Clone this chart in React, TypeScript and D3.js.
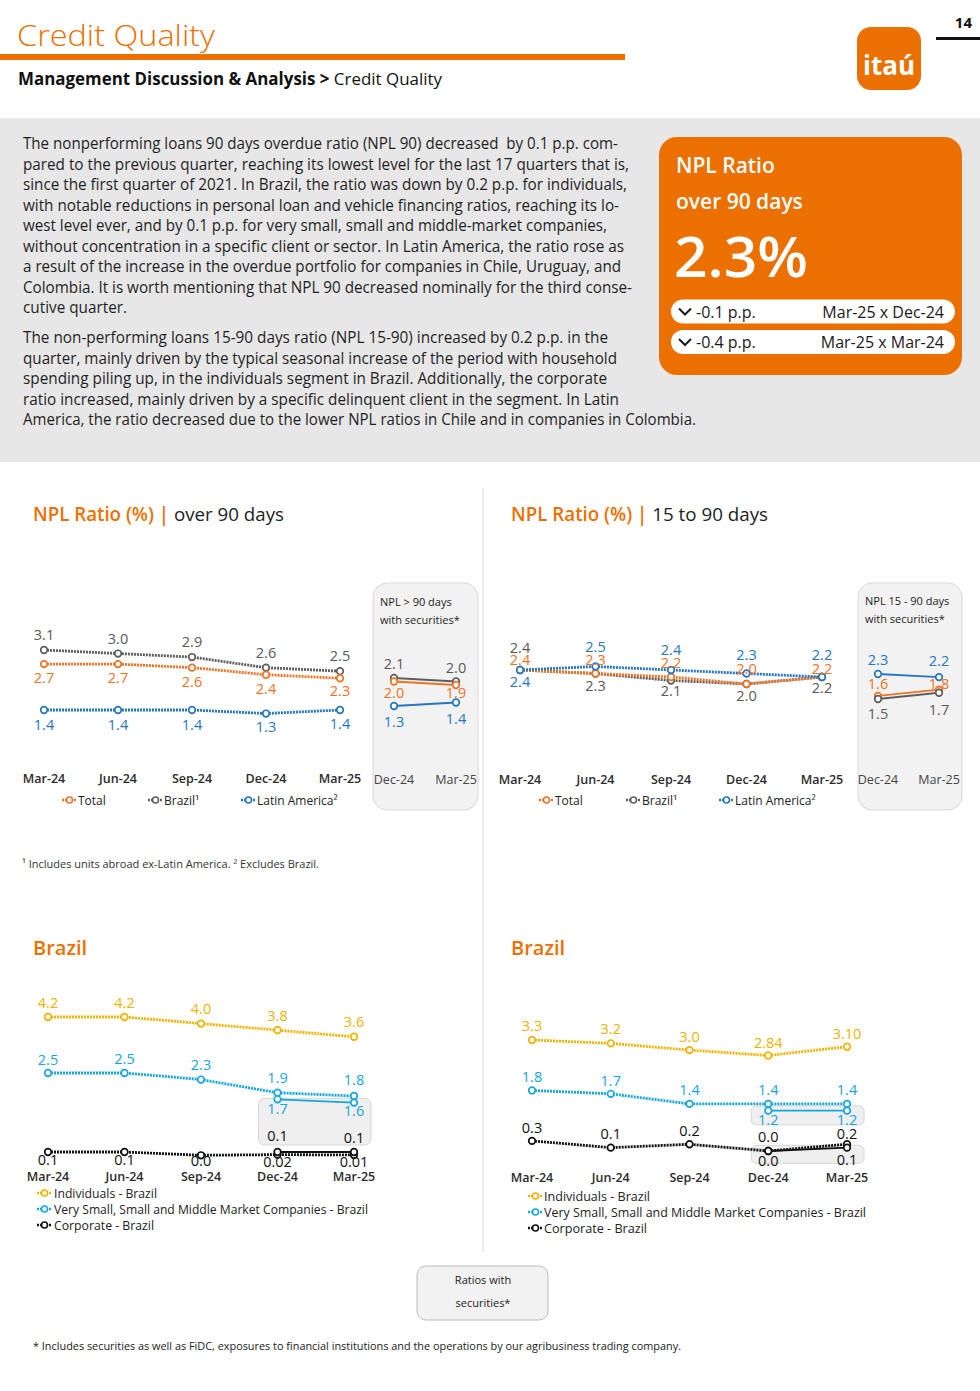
import React from "react";
import * as d3 from "d3";

// ---------- data ----------
const quarters = ["Mar-24", "Jun-24", "Sep-24", "Dec-24", "Mar-25"];
const lastTwo = ["Dec-24", "Mar-25"];

// NPL over 90 days (%)
const npl90Total = [2.7, 2.7, 2.6, 2.4, 2.3];
const npl90Brazil = [3.1, 3.0, 2.9, 2.6, 2.5];
const npl90Latam = [1.4, 1.4, 1.4, 1.3, 1.4];
const npl90SecTotal = [2.0, 1.9];
const npl90SecBrazil = [2.1, 2.0];
const npl90SecLatam = [1.3, 1.4];

// NPL 15 to 90 days (%)
const npl15Total = [2.4, 2.3, 2.2, 2.0, 2.2];
const npl15Brazil = [2.4, 2.3, 2.1, 2.0, 2.2];
const npl15Latam = [2.4, 2.5, 2.4, 2.3, 2.2];
const npl15SecTotal = [1.6, 1.8];
const npl15SecBrazil = [1.5, 1.7];
const npl15SecLatam = [2.3, 2.2];

// Brazil over 90 days (%)
const br90Individuals = [4.2, 4.2, 4.0, 3.8, 3.6];
const br90Sme = [2.5, 2.5, 2.3, 1.9, 1.8];
const br90Corporate = [0.1, 0.1, 0.0, 0.02, 0.01];
const br90CorporateLabels = ["0.1", "0.1", "0.0", "0.02", "0.01"];
const br90SecSme = [1.7, 1.6];
const br90SecCorporate = [0.1, 0.1];

// Brazil 15 to 90 days (%)
const br15Individuals = [3.3, 3.2, 3.0, 2.84, 3.1];
const br15IndividualsLabels = ["3.3", "3.2", "3.0", "2.84", "3.10"];
const br15Sme = [1.8, 1.7, 1.4, 1.4, 1.4];
const br15Corporate = [0.3, 0.1, 0.2, 0.0, 0.2];
const br15SecSme = [1.2, 1.2];
const br15SecCorporate = [0.0, 0.1];

const legendMain = ["Total", "Brazil¹", "Latin America²"];
const legendBrazil = [
  "Individuals - Brazil",
  "Very Small, Small and Middle Market Companies - Brazil",
  "Corporate - Brazil",
];

const bodyPara1 = [
  "The nonperforming loans 90 days overdue ratio (NPL 90) decreased  by 0.1 p.p. com-",
  "pared to the previous quarter, reaching its lowest level for the last 17 quarters that is,",
  "since the first quarter of 2021. In Brazil, the ratio was down by 0.2 p.p. for individuals,",
  "with notable reductions in personal loan and vehicle financing ratios, reaching its lo-",
  "west level ever, and by 0.1 p.p. for very small, small and middle-market companies,",
  "without concentration in a specific client or sector. In Latin America, the ratio rose as",
  "a result of the increase in the overdue portfolio for companies in Chile, Uruguay, and",
  "Colombia. It is worth mentioning that NPL 90 decreased nominally for the third conse-",
  "cutive quarter.",
];
const bodyPara2 = [
  "The non-performing loans 15-90 days ratio (NPL 15-90) increased by 0.2 p.p. in the",
  "quarter, mainly driven by the typical seasonal increase of the period with household",
  "spending piling up, in the individuals segment in Brazil. Additionally, the corporate",
  "ratio increased, mainly driven by a specific delinquent client in the segment. In Latin",
  "America, the ratio decreased due to the lower NPL ratios in Chile and in companies in Colombia.",
];

// ---------- layout / style ----------
const para1Widths = [595, 606, 604, 596, 584, 601, 598, 609, 104];
const para2Widths = [585, 594, 584, 596, 673];

const ORANGE = "#EC7000";
const C_TOTAL = "#EF7224";
const C_BRAZIL = "#5E5E5E";
const C_BRAZIL_TXT = "#5A5A5A";
const C_LATAM = "#2676C0";
const C_IND = "#F2B200";
const C_SME = "#16A6DF";
const C_CORP = "#111111";
const FONT = "'Open Sans', 'Noto Sans', sans-serif";
const NARROW = "'Liberation Sans Narrow', 'Open Sans', sans-serif";
const DOTS = "2 1";

type S = {
  values: number[];
  cats: string[];
  labels?: string[];
  color: string;
  labelColor?: string;
  solid?: boolean;
  dy: number[];
};

function Lines({
  x,
  y,
  series,
}: {
  x: d3.ScalePoint<string>;
  y: d3.ScaleLinear<number, number>;
  series: S[];
}) {
  const line = d3.line();
  return (
    <g>
      {series.map((s, k) => {
        const pts = s.values.map((v, i) => [x(s.cats[i])!, y(v)] as [number, number]);
        return (
          <path
            key={"l" + k}
            d={line(pts)!}
            fill="none"
            stroke={s.color}
            strokeWidth={s.solid ? 1.8 : 2.8}
            strokeDasharray={s.solid ? undefined : DOTS}
          />
        );
      })}
      {series.map((s, k) =>
        s.values.map((v, i) => (
          <circle
            key={"c" + k + "-" + i}
            cx={x(s.cats[i])!}
            cy={y(v)}
            r={3.3}
            fill="#fff"
            stroke={s.color}
            strokeWidth={1.7}
          />
        ))
      )}
      {series.map((s, k) =>
        s.values.map((v, i) => (
          <text
            key={"t" + k + "-" + i}
            x={x(s.cats[i])!}
            y={y(v) + s.dy[i]}
            textAnchor="middle"
            fontSize={14.5}
            fontFamily={FONT}
            fill={s.labelColor ?? s.color}
          >
            {s.labels ? s.labels[i] : d3.format(".1f")(v)}
          </text>
        ))
      )}
    </g>
  );
}

function LegendMarker({ x, y, color }: { x: number; y: number; color: string }) {
  return (
    <g>
      <line x1={x} x2={x + 15} y1={y} y2={y} stroke={color} strokeWidth={2.6} strokeDasharray={DOTS} />
      <circle cx={x + 7.5} cy={y} r={3} fill="#fff" stroke={color} strokeWidth={1.6} />
    </g>
  );
}

function XLabels({ x, cats, y, bold = true }: { x: d3.ScalePoint<string>; cats: string[]; y: number; bold?: boolean }) {
  return (
    <g>
      {cats.map((c) => (
        <text
          key={c}
          x={x(c)!}
          y={y}
          textAnchor="middle"
          fontSize={bold ? 12.5 : 12.5}
          fontWeight={bold ? 600 : 400}
          fontFamily={FONT}
          fill={bold ? "#2b2b2b" : "#444"}
        >
          {c}
        </text>
      ))}
    </g>
  );
}

export default function App() {
  // chart 1: NPL over 90
  const x1 = d3.scalePoint<string>().domain(quarters).range([44, 340]);
  const y1 = d3.scaleLinear().domain([1.4, 3.1]).range([710, 650]);
  const xi1 = d3.scalePoint<string>().domain(lastTwo).range([394, 456]);
  const yi1 = d3.scaleLinear().domain([1.3, 2.1]).range([706, 678]);

  // chart 2: NPL 15-90
  const x2 = d3.scalePoint<string>().domain(quarters).range([520, 822]);
  const y2 = d3.scaleLinear().domain([2.0, 2.4]).range([684, 670]);
  const xi2 = d3.scalePoint<string>().domain(lastTwo).range([878, 939]);
  const yi2 = d3.scaleLinear().domain([1.5, 2.3]).range([699, 674]);

  // chart 3: Brazil over 90
  const x3 = d3.scalePoint<string>().domain(quarters).range([48, 354]);
  const y3 = d3.scaleLinear().domain([0.1, 4.2]).range([1152, 1017]);

  // chart 4: Brazil 15-90
  const x4 = d3.scalePoint<string>().domain(quarters).range([532, 847]);
  const y4 = d3.scaleLinear().domain([0, 3.3]).range([1151, 1040]);

  const s1: S[] = [
    { values: npl90Brazil, cats: quarters, color: C_BRAZIL, labelColor: C_BRAZIL_TXT, dy: [-10, -10, -10, -10, -10] },
    { values: npl90Total, cats: quarters, color: C_TOTAL, dy: [19, 19, 19, 19, 18] },
    { values: npl90Latam, cats: quarters, color: C_LATAM, dy: [20, 20, 20, 18, 19] },
  ];
  const si1: S[] = [
    { values: npl90SecBrazil, cats: lastTwo, color: C_BRAZIL, labelColor: C_BRAZIL_TXT, solid: true, dy: [-9, -9] },
    { values: npl90SecTotal, cats: lastTwo, color: C_TOTAL, solid: true, dy: [16, 13] },
    { values: npl90SecLatam, cats: lastTwo, color: C_LATAM, solid: true, dy: [21, 21] },
  ];
  const s2: S[] = [
    { values: npl15Brazil, cats: quarters, color: C_BRAZIL, labelColor: C_BRAZIL_TXT, dy: [-17, 17, 15, 17, 16] },
    { values: npl15Total, cats: quarters, color: C_TOTAL, dy: [-5, -9, -9, -10, -3] },
    { values: npl15Latam, cats: quarters, color: C_LATAM, dy: [17, -14.5, -15, -14, -17] },
  ];
  const si2: S[] = [
    { values: npl15SecLatam, cats: lastTwo, color: C_LATAM, solid: true, dy: [-9, -11] },
    { values: npl15SecTotal, cats: lastTwo, color: C_TOTAL, solid: true, dy: [-7, -1] },
    { values: npl15SecBrazil, cats: lastTwo, color: C_BRAZIL, labelColor: C_BRAZIL_TXT, solid: true, dy: [20, 22] },
  ];
  const s3: S[] = [
    { values: br90Individuals, cats: quarters, color: C_IND, dy: [-9.5, -9.5, -9.5, -9, -10] },
    { values: br90Sme, cats: quarters, color: C_SME, dy: [-8, -9, -10, -10, -11] },
    { values: br90SecSme, cats: lastTwo, color: C_SME, solid: true, dy: [15, 13] },
    { values: br90Corporate, cats: quarters, labels: br90CorporateLabels, color: C_CORP, dy: [13, 13, 11, 12, 12] },
    { values: br90SecCorporate, cats: lastTwo, color: C_CORP, solid: true, dy: [-11, -9] },
  ];
  const s4: S[] = [
    { values: br15Individuals, cats: quarters, labels: br15IndividualsLabels, color: C_IND, dy: [-9, -9, -8, -7.5, -8] },
    { values: br15Sme, cats: quarters, color: C_SME, dy: [-8.5, -8, -9, -9, -9] },
    { values: br15SecSme, cats: lastTwo, color: C_SME, solid: true, dy: [14.5, 14.5] },
    { values: br15Corporate, cats: quarters, color: C_CORP, dy: [-8, -8.5, -8, -9, -5] },
    { values: br15SecCorporate, cats: lastTwo, color: C_CORP, solid: true, dy: [15, 17] },
  ];

  const mainColors = [C_TOTAL, C_BRAZIL, C_LATAM];
  const brColors = [C_IND, C_SME, C_CORP];
  const leg1X = [62, 148, 241];
  const leg2X = [539, 626, 719];
  const leg3W = [103, 314, 100];
  const leg4W = [106, 322, 103];

  return (
    <div style={{ position: "absolute", left: 0, top: 0 }}>
      <svg width={980} height={1391} viewBox="0 0 980 1391" style={{ display: "block", background: "#fff" }}>
        {/* ---------- header ---------- */}
        <text x={17} y={46} fontSize={29} fontWeight={300} fontFamily={FONT} fill={ORANGE} textLength={198} lengthAdjust="spacingAndGlyphs">
          Credit Quality
        </text>
        <rect x={0} y={54} width={625} height={6} fill={ORANGE} />
        <text x={18} y={85} fontSize={17} fontFamily={NARROW} fill="#111" textLength={424} lengthAdjust="spacingAndGlyphs">
          <tspan fontWeight={700}>Management Discussion &amp; Analysis</tspan>
          <tspan fontWeight={700}> &gt; </tspan>
          <tspan>Credit Quality</tspan>
        </text>
        <text x={972} y={28} textAnchor="end" fontSize={15} fontWeight={700} fontFamily={FONT} fill="#111">
          14
        </text>
        <rect x={936} y={37} width={44} height={3} fill="#111" />
        <rect x={857} y={27} width={64} height={63} rx={14} fill={ORANGE} />
        <text x={889} y={75} textAnchor="middle" fontSize={26} fontWeight={700} fontFamily={FONT} fill="#fff">
          itaú
        </text>

        {/* ---------- gray text band ---------- */}
        <rect x={0} y={118} width={980} height={344} fill="#E7E7E7" />
        {bodyPara1.map((t, i) => (
          <text
            key={"p1" + i}
            x={23}
            y={149 + i * 20.5}
            fontSize={15.5}
            fontFamily={NARROW}
            fill="#1f1f1f"
            textLength={para1Widths[i]}
            lengthAdjust="spacingAndGlyphs"
            style={{ whiteSpace: "pre" }}
          >
            {t}
          </text>
        ))}
        {bodyPara2.map((t, i) => (
          <text
            key={"p2" + i}
            x={23}
            y={343 + i * 20.5}
            fontSize={15.5}
            fontFamily={NARROW}
            fill="#1f1f1f"
            textLength={para2Widths[i]}
            lengthAdjust="spacingAndGlyphs"
          >
            {t}
          </text>
        ))}

        {/* NPL box */}
        <rect x={659} y={137} width={303} height={238} rx={18} fill={ORANGE} />
        <text x={676} y={173} fontSize={21} fontWeight={600} fontFamily={FONT} fill="#fff">
          NPL Ratio
        </text>
        <text x={676} y={209} fontSize={21} fontWeight={600} fontFamily={FONT} fill="#fff">
          over 90 days
        </text>
        <text x={674} y={277} fontSize={56} fontWeight={600} fontFamily={FONT} fill="#fff" textLength={134} lengthAdjust="spacingAndGlyphs">
          2.3%
        </text>
        {[0, 1].map((i) => {
          const cy = 311.5 + i * 30.5;
          return (
            <g key={"pill" + i}>
              <rect x={671} y={cy - 12} width={284} height={24} rx={12} fill="#fff" />
              <path d={`M${679},${cy - 3} l6,6 l6,-6`} fill="none" stroke="#1a1a1a" strokeWidth={2} />
              <text x={696} y={cy + 6} fontSize={16} fontFamily={FONT} fill="#1a1a1a">
                {i === 0 ? "-0.1 p.p." : "-0.4 p.p."}
              </text>
              <text x={944} y={cy + 6} textAnchor="end" fontSize={16} fontFamily={FONT} fill="#1a1a1a">
                {i === 0 ? "Mar-25 x Dec-24" : "Mar-25 x Mar-24"}
              </text>
            </g>
          );
        })}

        {/* divider */}
        <line x1={483} x2={483} y1={488} y2={1252} stroke="#D9D9D9" strokeWidth={1} />

        {/* ---------- chart 1 ---------- */}
        <text x={33} y={521} fontSize={19} fontFamily={NARROW} textLength={251} lengthAdjust="spacingAndGlyphs">
          <tspan fill={ORANGE} fontWeight={600}>NPL Ratio (%) | </tspan>
          <tspan fill="#222">over 90 days</tspan>
        </text>
        <Lines x={x1} y={y1} series={s1} />
        <XLabels x={x1} cats={quarters} y={783} />
        {legendMain.map((t, i) => (
          <g key={"lg1" + i}>
            <LegendMarker x={leg1X[i]} y={800} color={mainColors[i]} />
            <text x={leg1X[i] + 16} y={804.5} fontSize={12} fontFamily={FONT} fill="#222">
              {t}
            </text>
          </g>
        ))}
        <rect x={373} y={583} width={105} height={227} rx={14} fill="#F2F2F2" stroke="#D9D9D9" />
        <text x={380} y={606} fontSize={11} fontFamily={FONT} fill="#222">NPL &gt; 90 days</text>
        <text x={380} y={624} fontSize={11} fontFamily={FONT} fill="#222">with securities*</text>
        <Lines x={xi1} y={yi1} series={si1} />
        <XLabels x={xi1} cats={lastTwo} y={783.5} bold={false} />

        {/* ---------- chart 2 ---------- */}
        <text x={511} y={521} fontSize={19} fontFamily={NARROW} textLength={257} lengthAdjust="spacingAndGlyphs">
          <tspan fill={ORANGE} fontWeight={600}>NPL Ratio (%) | </tspan>
          <tspan fill="#222">15 to 90 days</tspan>
        </text>
        <Lines x={x2} y={y2} series={s2} />
        <XLabels x={x2} cats={quarters} y={783.5} />
        {legendMain.map((t, i) => (
          <g key={"lg2" + i}>
            <LegendMarker x={leg2X[i]} y={800} color={mainColors[i]} />
            <text x={leg2X[i] + 16} y={804.5} fontSize={12} fontFamily={FONT} fill="#222">
              {t}
            </text>
          </g>
        ))}
        <rect x={858} y={583} width={104} height={227} rx={14} fill="#F2F2F2" stroke="#D9D9D9" />
        <text x={865} y={605} fontSize={11} fontFamily={FONT} fill="#222">NPL 15 - 90 days</text>
        <text x={865} y={623} fontSize={11} fontFamily={FONT} fill="#222">with securities*</text>
        <Lines x={xi2} y={yi2} series={si2} />
        <XLabels x={xi2} cats={lastTwo} y={783.5} bold={false} />

        <text x={22} y={868} fontSize={11} fontFamily={FONT} fill="#333" textLength={297} lengthAdjust="spacingAndGlyphs">
          ¹ Includes units abroad ex-Latin America. ² Excludes Brazil.
        </text>

        {/* ---------- chart 3 ---------- */}
        <text x={33} y={955} fontSize={20} fontWeight={600} fontFamily={NARROW} fill={ORANGE}>
          Brazil
        </text>
        <rect
          x={x3("Dec-24")! - 19}
          y={y3(br90SecSme[0]) - 1}
          width={x3("Mar-25")! - x3("Dec-24")! + 36}
          height={y3(0.1) - 7 - (y3(br90SecSme[0]) - 1)}
          rx={6}
          fill="#EFEFEF"
          stroke="#D6D6D6"
        />
        <Lines x={x3} y={y3} series={s3} />
        <XLabels x={x3} cats={quarters} y={1181} />
        {legendBrazil.map((t, i) => (
          <g key={"lg3" + i}>
            <LegendMarker x={37} y={1193 + i * 16} color={brColors[i]} />
            <text x={54} y={1197.5 + i * 16} fontSize={12.5} fontFamily={FONT} fill="#222" textLength={leg3W[i]} lengthAdjust="spacingAndGlyphs">
              {t}
            </text>
          </g>
        ))}

        {/* ---------- chart 4 ---------- */}
        <text x={511} y={955} fontSize={20} fontWeight={600} fontFamily={NARROW} fill={ORANGE}>
          Brazil
        </text>
        <rect
          x={x4("Dec-24")! - 17}
          y={y4(1.4) + 2}
          width={x4("Mar-25")! - x4("Dec-24")! + 34}
          height={19}
          rx={5}
          fill="#EFEFEF"
          stroke="#D6D6D6"
        />
        <rect
          x={x4("Dec-24")! - 17}
          y={y4(0.2) + 1}
          width={x4("Mar-25")! - x4("Dec-24")! + 34}
          height={18}
          rx={5}
          fill="#EFEFEF"
          stroke="#D6D6D6"
        />
        <Lines x={x4} y={y4} series={s4} />
        <XLabels x={x4} cats={quarters} y={1182} />
        {legendBrazil.map((t, i) => (
          <g key={"lg4" + i}>
            <LegendMarker x={528} y={1196 + i * 16} color={brColors[i]} />
            <text x={544} y={1200.5 + i * 16} fontSize={12.5} fontFamily={FONT} fill="#222" textLength={leg4W[i]} lengthAdjust="spacingAndGlyphs">
              {t}
            </text>
          </g>
        ))}

        {/* ---------- bottom ---------- */}
        <rect x={417} y={1266} width={131} height={54} rx={9} fill="#F2F2F2" stroke="#BDBDBD" />
        <text x={483} y={1284} textAnchor="middle" fontSize={11} fontFamily={FONT} fill="#222">Ratios with</text>
        <text x={483} y={1307} textAnchor="middle" fontSize={11} fontFamily={FONT} fill="#222">securities*</text>
        <text x={33} y={1350} fontSize={11} fontFamily={FONT} fill="#222" textLength={648} lengthAdjust="spacingAndGlyphs">
          * Includes securities as well as FiDC, exposures to financial institutions and the operations by our agribusiness trading company.
        </text>
      </svg>
    </div>
  );
}
